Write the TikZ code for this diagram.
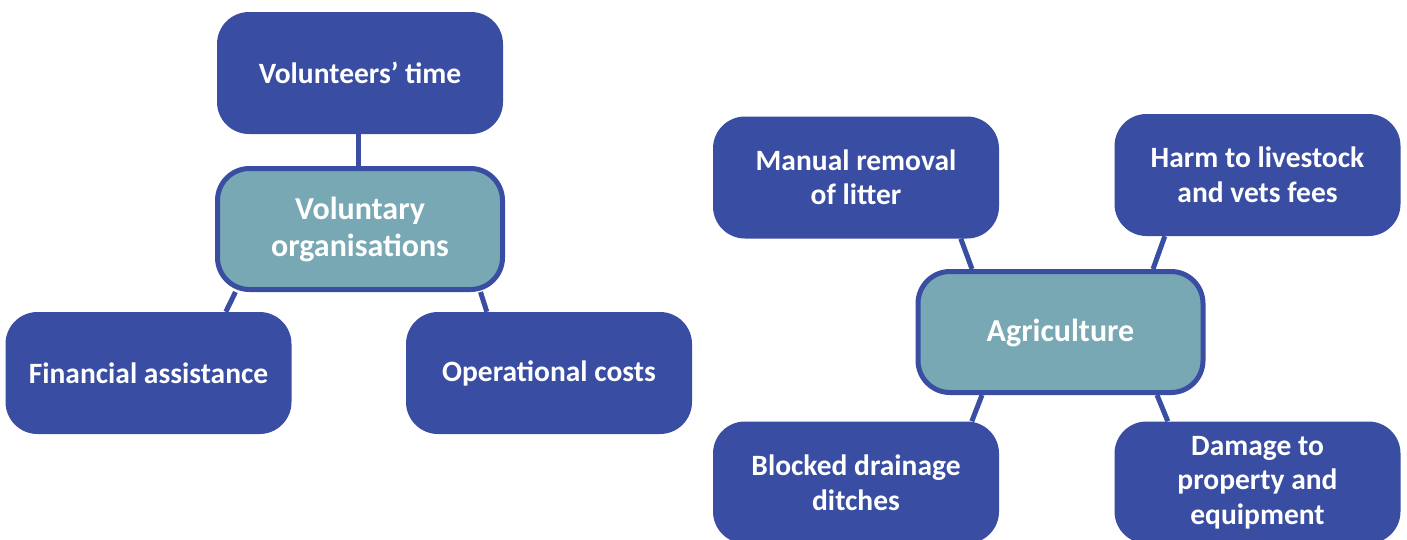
\documentclass[tikz,border=0pt]{standalone}
\usepackage{fontspec}
\setmainfont{Carlito}
\definecolor{dblue}{HTML}{394DA2}
\definecolor{tealc}{HTML}{78A8B4}
\begin{document}
\begin{tikzpicture}[x=1pt,y=-1pt,
  leaf/.style={fill=dblue, rounded corners=32pt, minimum width=286pt, minimum height=122pt,
    inner sep=0pt, text=white, align=center, font=\bfseries\fontsize{29.5}{34.5}\selectfont},
  hub/.style={leaf, fill=tealc, draw=dblue, line width=5pt, minimum width=285pt, minimum height=121pt,
    font=\bfseries\fontsize{32}{37}\selectfont},
  link/.style={draw=dblue, line width=5pt}]
\useasboundingbox (0,0) rectangle (1407,539);
\clip (0,0) rectangle (1407,539);
% left group
\node[leaf] (vt) at (360,73) {Volunteers’ time};
\node[hub]  (vo) at (360,229) {Voluntary\\organisations};
\node[leaf] (fa) at (148.5,373) {Financial assistance};
\node[leaf] (oc) at (549,373) {Operational costs};
% right group
\node[hub, text depth=3pt]  (ag) at (1060.5,332) {Agriculture};
\node[leaf] (mr) at (856,177.5) {Manual removal\\of litter};
\node[leaf] (hl) at (1257.5,175) {Harm to livestock\\and vets fees};
\node[leaf] (bd) at (856,482.5) {Blocked drainage\\ditches};
\node[leaf] (dm) at (1257.5,482.5) {Damage to\\property and\\equipment};
% connectors
\draw[link] ([xshift=-2pt]vt.south) -- ([xshift=-2pt]vo.north);
\draw[link] ([xshift=20.5pt]vo.south west) -- ([xshift=220.5pt]fa.north west);
\draw[link] ([xshift=-24.5pt]vo.south east) -- ([xshift=81pt]oc.north west);
\draw[link] ([xshift=248pt]mr.south west) -- ([xshift=56.5pt]ag.north west);
\draw[link] ([xshift=50.5pt]hl.south west) -- ([xshift=237.5pt]ag.north west);
\draw[link] ([xshift=66.5pt]ag.south west) -- ([xshift=259pt]bd.north west);
\draw[link] ([xshift=241.5pt]ag.south west) -- ([xshift=53.5pt]dm.north west);
\end{tikzpicture}
\end{document}
